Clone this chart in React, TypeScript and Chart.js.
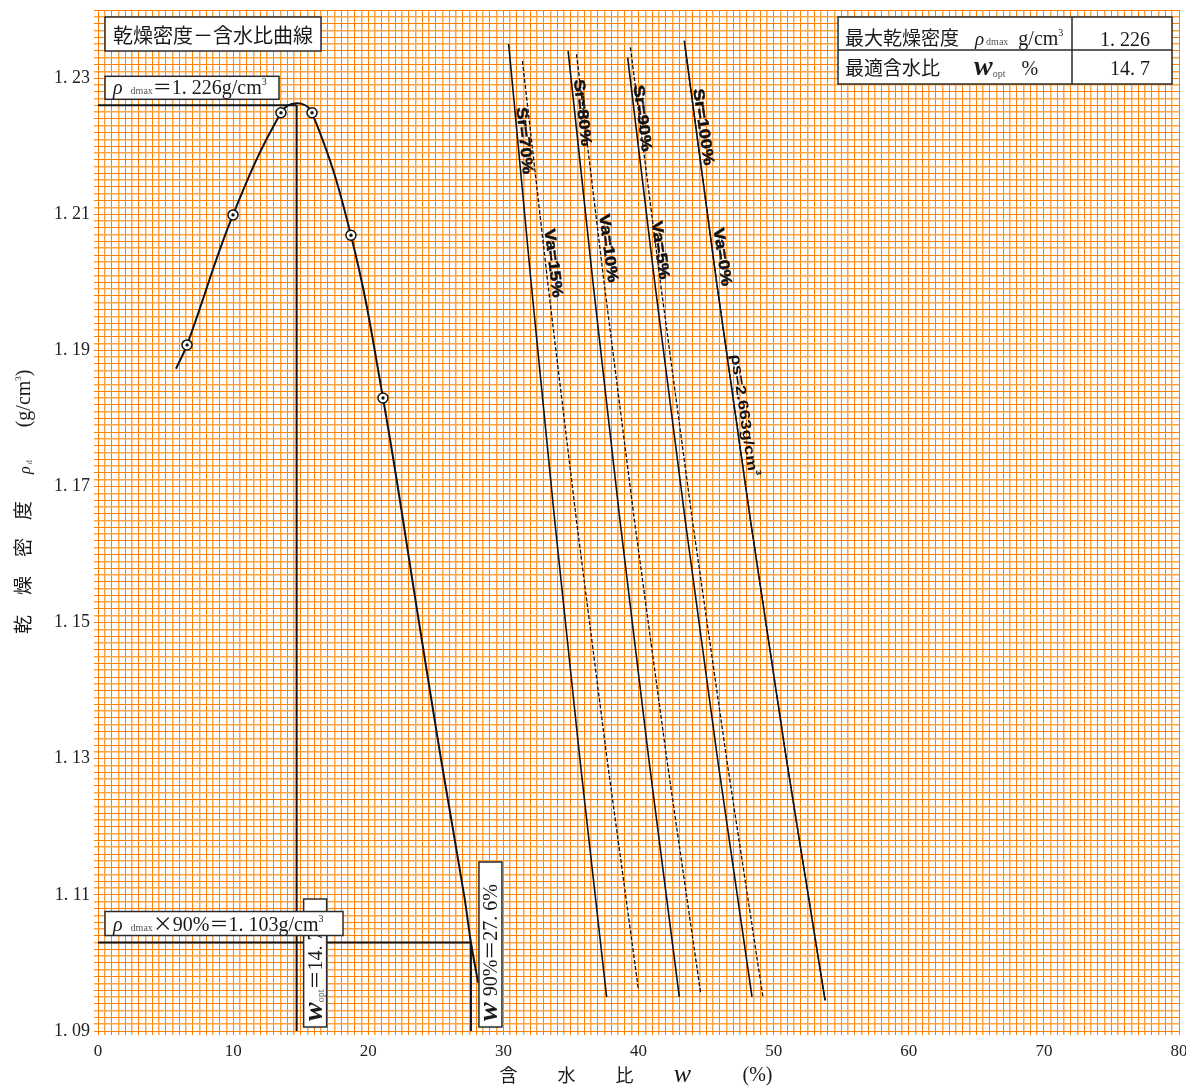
import { useEffect, useRef } from 'react';
import { Chart, registerables } from 'chart.js';

Chart.register(...registerables);

// ---------- data ----------
// compaction curve (water content %, dry density g/cm3)
const curveW = [5.77, 6.59, 9.99, 13.54, 14.7, 15.84, 18.72, 21.09, 23.76, 25.38, 27.09, 27.6, 28.13];
const curveRho = [1.1873, 1.1908, 1.2099, 1.2249, 1.2263, 1.2249, 1.2069, 1.183, 1.15, 1.13, 1.11, 1.103, 1.0971];
// test points
const markerW = [6.59, 9.99, 13.54, 15.84, 18.72, 21.09];
const markerRho = [1.1908, 1.2099, 1.2249, 1.2249, 1.2069, 1.183];
// results
const rhoDmax = 1.226;
const wOpt = 14.7;
const rho90 = 1.103;
const w90 = 27.6;

// saturation lines Sr (solid)
const sr70W = [30.39, 32.05, 33.8, 35.66, 37.64];
const sr70Rho = [1.235, 1.2, 1.165, 1.13, 1.095];
const sr80W = [34.79, 36.63, 38.63, 40.76, 43.02];
const sr80Rho = [1.234, 1.2, 1.165, 1.13, 1.095];
const sr90W = [39.2, 41.2, 43.46, 45.85, 48.4];
const sr90Rho = [1.233, 1.2, 1.165, 1.13, 1.095];
const sr100W = [43.39, 45.78, 48.29, 50.94, 53.81];
const sr100Rho = [1.2355, 1.2, 1.165, 1.13, 1.0945];
// air void lines Va (dashed)
const va15W = [31.41, 33.28, 35.41, 37.67, 40.0];
const va15Rho = [1.2325, 1.2, 1.165, 1.13, 1.096];
const va10W = [35.41, 37.45, 39.7, 42.09, 44.59];
const va10Rho = [1.2335, 1.2, 1.165, 1.13, 1.0957];
const va5W = [39.4, 41.62, 43.99, 46.52, 49.21];
const va5Rho = [1.2345, 1.2, 1.165, 1.13, 1.095];
const va0W = [43.45, 45.78, 48.29, 50.94, 53.81];
const va0Rho = [1.2345, 1.2, 1.165, 1.13, 1.0945];

// labels on the lines
const lineLabelText = ['Sr=70%', 'Va=15%', 'Sr=80%', 'Va=10%', 'Sr=90%', 'Va=5%', 'Sr=100%', 'Va=0%'];
const lineLabelW = [31.53, 33.67, 35.82, 37.74, 40.26, 41.59, 44.77, 46.18];
const lineLabelRho = [1.2208, 1.2028, 1.2249, 1.205, 1.2241, 1.2047, 1.2228, 1.2037];
const rhoSLabelW = 47.88;
const rhoSLabelRho = 1.1805;

// axes
const xTickValues = [0, 10, 20, 30, 40, 50, 60, 70, 80];
const xTickLabels = ['0', '10', '20', '30', '40', '50', '60', '70', '80'];
const yTickValues = [1.09, 1.11, 1.13, 1.15, 1.17, 1.19, 1.21, 1.23];
const yTickLabels = ['1. 09', '1. 11', '1. 13', '1. 15', '1. 17', '1. 19', '1. 21', '1. 23'];
const X_MIN = 0, X_MAX = 80, X_GRID = 0.5;
const Y_MIN = 1.09, Y_MAX = 1.24, Y_GRID = 0.001;

// ---------- styles ----------
const SERIF = '"Liberation Serif","DejaVu Serif",serif';
const CJK = '"Noto Sans CJK JP",sans-serif';
const SANS = '"Liberation Sans",Arial,sans-serif';
const GRID_DARK = '#ff8000';
const GRID_LIGHT = '#ffa445';
const INK = '#1a1a1a';

type Seg = { t?: string; f?: string; dy?: number; gap?: number; c?: string };

function richWidth(ctx: CanvasRenderingContext2D, segs: Seg[]) {
  let w = 0;
  let lastFont = `18px ${SERIF}`;
  for (const s of segs) {
    if (s.gap) w += s.gap;
    if (s.t) {
      lastFont = s.f || lastFont;
      ctx.font = lastFont;
      w += ctx.measureText(s.t).width;
    }
  }
  return w;
}

function drawRich(ctx: CanvasRenderingContext2D, segs: Seg[], x: number, y: number) {
  let cx = x;
  ctx.textAlign = 'left';
  ctx.textBaseline = 'alphabetic';
  let lastFont = `18px ${SERIF}`;
  for (const s of segs) {
    if (s.gap) cx += s.gap;
    if (s.t) {
      lastFont = s.f || lastFont;
      ctx.font = lastFont;
      ctx.fillStyle = s.c || INK;
      ctx.fillText(s.t, cx, y + (s.dy || 0));
      cx += ctx.measureText(s.t).width;
    }
  }
}

function drawBox(ctx: CanvasRenderingContext2D, x: number, y: number, w: number, h: number) {
  ctx.fillStyle = '#ffffff';
  ctx.fillRect(x, y, w, h);
  ctx.strokeStyle = '#2a2a2a';
  ctx.lineWidth = 1.5;
  ctx.strokeRect(x, y, w, h);
}

function pts(ws: number[], rs: number[]) {
  return ws.map((w, i) => ({ x: w, y: rs[i] }));
}

const satLines = [
  { w: sr70W, r: sr70Rho, dash: false },
  { w: va15W, r: va15Rho, dash: true },
  { w: sr80W, r: sr80Rho, dash: false },
  { w: va10W, r: va10Rho, dash: true },
  { w: sr90W, r: sr90Rho, dash: false },
  { w: va5W, r: va5Rho, dash: true },
  { w: sr100W, r: sr100Rho, dash: false },
  { w: va0W, r: va0Rho, dash: true },
];

function gridValues(min: number, max: number, step: number, dec: number) {
  const out: { value: number }[] = [];
  const n = Math.round((max - min) / step);
  for (let i = 0; i <= n; i++) {
    out.push({ value: Number((min + i * step).toFixed(dec)) });
  }
  return out;
}

function lineAngle(xs: any, ys: any, ln: { w: number[]; r: number[] }) {
  const n = ln.w.length - 1;
  return Math.atan2(
    ys.getPixelForValue(ln.r[n]) - ys.getPixelForValue(ln.r[0]),
    xs.getPixelForValue(ln.w[n]) - xs.getPixelForValue(ln.w[0])
  );
}

const annotPlugin = {
  id: 'annot',
  afterDatasetsDraw(chart: any) {
    const ctx: CanvasRenderingContext2D = chart.ctx;
    const ca = chart.chartArea;
    const xs = chart.scales.x;
    const ys = chart.scales.y;
    ctx.save();

    // --- labels along Sr / Va lines ---
    const labelFont = `bold 18px ${SANS}`;
    lineLabelText.forEach((txt, i) => {
      const ang = lineAngle(xs, ys, satLines[i]);
      ctx.save();
      ctx.translate(xs.getPixelForValue(lineLabelW[i]), ys.getPixelForValue(lineLabelRho[i]));
      ctx.rotate(ang);
      ctx.scale(1.02, 0.85);
      ctx.font = labelFont;
      ctx.fillStyle = '#111';
      ctx.strokeStyle = '#111';
      ctx.lineWidth = 0.6;
      ctx.textAlign = 'center';
      ctx.textBaseline = 'middle';
      ctx.fillText(txt, 0, 0);
      ctx.strokeText(txt, 0, 0);
      ctx.restore();
    });
    {
      const ang = lineAngle(xs, ys, satLines[6]);
      const segs: Seg[] = [
        { t: 'ρs=2.663g/cm', f: `bold 17px ${SANS}`, c: '#111' },
        { t: '3', f: `bold 9px ${SANS}`, dy: -9, c: '#111' },
      ];
      ctx.save();
      ctx.translate(xs.getPixelForValue(rhoSLabelW), ys.getPixelForValue(rhoSLabelRho));
      ctx.rotate(ang);
      ctx.scale(1.05, 0.85);
      const w = richWidth(ctx, segs);
      drawRich(ctx, segs, -w / 2, 6);
      ctx.restore();
    }

    // --- title box ---
    drawBox(ctx, ca.left + 7, ca.top + 7, 216, 34);
    ctx.font = `20px ${CJK}`;
    ctx.fillStyle = INK;
    ctx.textAlign = 'center';
    ctx.textBaseline = 'middle';
    ctx.fillText('乾燥密度－含水比曲線', ca.left + 7 + 108, ca.top + 7 + 18);

    // --- rho dmax box ---
    const yD = ys.getPixelForValue(rhoDmax);
    drawBox(ctx, ca.left + 7, yD - 29, 174, 23);
    drawRich(ctx, [
      { t: 'ρ', f: `italic 20px ${SERIF}` },
      { gap: 8 },
      { t: 'dmax', f: `10px ${SERIF}`, c: '#555' },
      { t: '＝', f: `19px ${CJK}` },
      { t: '1. 226g/cm', f: `20px ${SERIF}` },
      { t: '3', f: `10px ${SERIF}`, dy: -9 },
    ], ca.left + 15, yD - 11);

    // --- results table ---
    const tx = ca.right - 7 - 334;
    const ty = ca.top + 7;
    drawBox(ctx, tx, ty, 334, 67);
    ctx.strokeStyle = '#2a2a2a';
    ctx.lineWidth = 1.5;
    ctx.beginPath();
    ctx.moveTo(tx, ty + 33);
    ctx.lineTo(tx + 334, ty + 33);
    ctx.moveTo(tx + 234, ty);
    ctx.lineTo(tx + 234, ty + 67);
    ctx.stroke();
    drawRich(ctx, [
      { t: '最大乾燥密度', f: `19px ${CJK}` },
      { gap: 16 },
      { t: 'ρ', f: `italic 19px ${SERIF}` },
      { gap: 2 },
      { t: 'dmax', f: `10px ${SERIF}`, c: '#555' },
      { gap: 10 },
      { t: 'g/cm', f: `20px ${SERIF}` },
      { t: '3', f: `10px ${SERIF}`, dy: -9 },
    ], tx + 7, ty + 28);
    drawRich(ctx, [
      { t: '最適含水比', f: `19px ${CJK}` },
      { gap: 34 },
      { t: 'w', f: `italic bold 28px ${SERIF}` },
      { t: 'opt', f: `10px ${SERIF}`, dy: 2, c: '#555' },
      { gap: 16 },
      { t: '%', f: `20px ${SERIF}` },
    ], tx + 7, ty + 58);
    ctx.font = `20px ${SERIF}`;
    ctx.fillStyle = INK;
    ctx.textAlign = 'right';
    ctx.textBaseline = 'alphabetic';
    ctx.fillText('1. 226', tx + 312, ty + 29);
    ctx.fillText('14. 7', tx + 312, ty + 58);

    // --- w opt vertical box ---
    const xO = xs.getPixelForValue(wOpt);
    const boxBottom = ca.bottom - 4;
    drawBox(ctx, xO + 7, boxBottom - 128, 23, 128);
    ctx.save();
    ctx.translate(xO + 7, boxBottom);
    ctx.rotate(-Math.PI / 2);
    drawRich(ctx, [
      { gap: 6 },
      { t: 'w', f: `italic bold 28px ${SERIF}` },
      { t: 'opt', f: `10px ${SERIF}`, dy: 2, c: '#555' },
      { t: '＝', f: `19px ${CJK}` },
      { t: '14. 7', f: `20px ${SERIF}` },
    ], 0, 18);
    ctx.restore();

    // --- rho dmax x 90% box ---
    const y90 = ys.getPixelForValue(rho90);
    drawBox(ctx, ca.left + 7, y90 - 31, 238, 24);
    drawRich(ctx, [
      { t: 'ρ', f: `italic 20px ${SERIF}` },
      { gap: 8 },
      { t: 'dmax', f: `10px ${SERIF}`, c: '#555' },
      { t: '×', f: `20px ${CJK}` },
      { t: '90%', f: `20px ${SERIF}` },
      { t: '＝', f: `19px ${CJK}` },
      { t: '1. 103g/cm', f: `20px ${SERIF}` },
      { t: '3', f: `10px ${SERIF}`, dy: -9 },
    ], ca.left + 15, y90 - 12);

    // --- w 90% vertical box ---
    const x90 = xs.getPixelForValue(w90);
    drawBox(ctx, x90 + 8, boxBottom - 165, 23, 165);
    ctx.save();
    ctx.translate(x90 + 8, boxBottom);
    ctx.rotate(-Math.PI / 2);
    drawRich(ctx, [
      { gap: 6 },
      { t: 'w', f: `italic bold 28px ${SERIF}` },
      { gap: 6 },
      { t: '90%', f: `20px ${SERIF}` },
      { t: '＝', f: `19px ${CJK}` },
      { t: '27. 6%', f: `20px ${SERIF}` },
    ], 0, 18);
    ctx.restore();

    ctx.restore();
  },
  afterDraw(chart: any) {
    const ctx: CanvasRenderingContext2D = chart.ctx;
    const ca = chart.chartArea;
    ctx.save();
    // y-axis title (rotated)
    ctx.translate(23, ca.top + 624);
    ctx.rotate(-Math.PI / 2);
    drawRich(ctx, [
      { t: '乾', f: `19px ${CJK}` },
      { gap: 20 },
      { t: '燥' },
      { gap: 19 },
      { t: '密' },
      { gap: 18 },
      { t: '度' },
      { gap: 27 },
      { t: 'ρ', f: `italic 16px ${SERIF}` },
      { gap: 2 },
      { t: 'd', f: `8px ${SERIF}`, dy: 2, c: '#555' },
      { gap: 33 },
      { t: '(g/cm', f: `20px ${SERIF}` },
      { t: '3', f: `9px ${SERIF}`, dy: -9 },
      { t: ')', f: `20px ${SERIF}` },
    ], 0, 7);
    ctx.restore();

    // x-axis title
    ctx.save();
    const cx = (ca.left + ca.right) / 2;
    ctx.fillStyle = INK;
    ctx.textAlign = 'center';
    ctx.textBaseline = 'alphabetic';
    ctx.font = `18px ${CJK}`;
    ctx.fillText('含', cx - 130, 1082);
    ctx.fillText('水', cx - 72, 1082);
    ctx.fillText('比', cx - 14, 1082);
    ctx.font = `italic 26px ${SERIF}`;
    ctx.fillText('w', cx + 44, 1082);
    ctx.font = `20px ${SERIF}`;
    ctx.fillText('(%)', cx + 119, 1081);
    ctx.restore();
  },
};

export default function App() {
  const ref = useRef<HTMLCanvasElement | null>(null);

  useEffect(() => {
    if (!ref.current) return;
    const blackLine = (data: { x: number; y: number }[], width: number, dash: number[] = []) => ({
      data,
      showLine: true,
      borderColor: '#111',
      borderWidth: width,
      borderDash: dash,
      pointRadius: 0,
      tension: 0,
      fill: false,
    });

    const datasets: any[] = [
      {
        data: pts(markerW, markerRho),
        showLine: false,
        pointRadius: 1.7,
        pointBackgroundColor: '#111',
        pointBorderWidth: 0,
      },
      {
        data: pts(markerW, markerRho),
        showLine: false,
        pointRadius: 5,
        pointBackgroundColor: '#ffffff',
        pointBorderColor: '#111',
        pointBorderWidth: 1.5,
      },
      { ...blackLine(pts(curveW, curveRho), 2), tension: 0.4 },
      blackLine([{ x: X_MIN, y: rhoDmax }, { x: wOpt, y: rhoDmax }], 2),
      blackLine([{ x: wOpt, y: rhoDmax }, { x: wOpt, y: Y_MIN }], 2),
      blackLine([{ x: X_MIN, y: rho90 }, { x: w90, y: rho90 }], 2),
      blackLine([{ x: w90, y: rho90 }, { x: w90, y: Y_MIN }], 2),
      ...satLines.filter((l) => !l.dash).map((l) => blackLine(pts(l.w, l.r), 1.6)),
      ...satLines.filter((l) => l.dash).map((l) => blackLine(pts(l.w, l.r), 1.3, [4, 2])),
    ];

    const gridColor = (c: any) => (c.index % 2 === 0 ? GRID_DARK : GRID_LIGHT);
    const gridWidth = (c: any) => (c.index % 2 === 0 ? 1 : 1.5);

    const chart = new Chart(ref.current, {
      type: 'scatter',
      data: { datasets },
      options: {
        animation: false,
        responsive: false,
        devicePixelRatio: 1,
        events: [],
        layout: { padding: { top: 10, right: 7, left: 0, bottom: 0 } },
        plugins: { legend: { display: false }, tooltip: { enabled: false } },
        scales: {
          x: {
            type: 'linear',
            min: X_MIN,
            max: X_MAX,
            afterBuildTicks: (s: any) => {
              s.ticks = gridValues(X_MIN, X_MAX, X_GRID, 1);
            },
            afterFit: (s: any) => {
              s.height = 55;
              s.paddingLeft = 0;
              s.paddingRight = 0;
            },
            ticks: {
              autoSkip: false,
              maxRotation: 0,
              padding: 6,
              color: '#222',
              font: { family: SERIF, size: 17 },
              callback: (v: any) => {
                const i = xTickValues.findIndex((t) => Math.abs(t - Number(v)) < 1e-6);
                return i >= 0 ? xTickLabels[i] : '';
              },
            },
            grid: { color: gridColor, lineWidth: gridWidth, tickLength: 4 },
            border: { color: GRID_DARK, width: 1 },
          },
          y: {
            type: 'linear',
            min: Y_MIN,
            max: Y_MAX,
            afterBuildTicks: (s: any) => {
              s.ticks = gridValues(Y_MIN, Y_MAX, Y_GRID, 3);
            },
            afterFit: (s: any) => {
              s.width = 98;
              s.paddingTop = 0;
              s.paddingBottom = 0;
            },
            ticks: {
              autoSkip: false,
              padding: 4,
              color: '#222',
              font: { family: SERIF, size: 18 },
              callback: (v: any) => {
                const i = yTickValues.findIndex((t) => Math.abs(t - Number(v)) < 1e-6);
                return i >= 0 ? yTickLabels[i] : '';
              },
            },
            grid: { color: gridColor, lineWidth: gridWidth, tickLength: 4 },
            border: { color: GRID_DARK, width: 1 },
          },
        },
      },
      plugins: [annotPlugin],
    } as any);

    return () => chart.destroy();
  }, []);

  return (
    <canvas
      ref={ref}
      width={1186}
      height={1086}
      style={{ position: 'absolute', left: 0, top: 0, width: 1186, height: 1086, background: '#fff' }}
    />
  );
}
